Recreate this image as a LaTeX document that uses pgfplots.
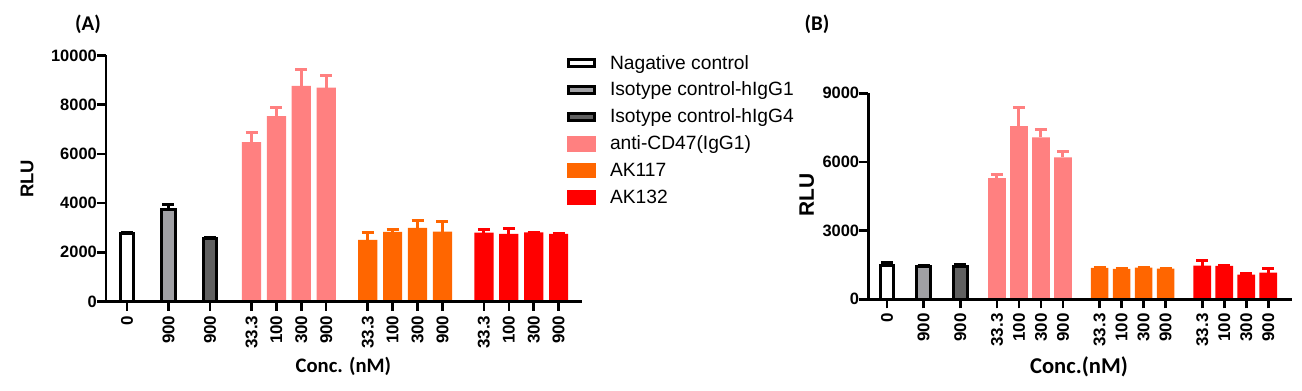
\documentclass[border=0pt]{standalone}
\usepackage{fontspec}
\setmainfont{Liberation Sans}
\newfontfamily\carlito{Carlito}
\usepackage{pgfplots}
\pgfplotsset{compat=1.18}
\definecolor{cgray}{HTML}{A0A0A4}
\definecolor{cdark}{HTML}{606060}
\definecolor{cpink}{HTML}{FF8080}
\definecolor{corange}{HTML}{FF6600}
\definecolor{cred}{HTML}{FF0000}
\pgfplotsset{
  panel/.style={
    scale only axis,
    axis lines=left,
    axis line style={-, line width=2.7bp, black},
    axis on top,
    tick align=outside,
    major tick length=9bp,
    tick style={line width=2.5bp, black},
    xtick={0,1.6667,3.3333,5,6,7,8,9.6667,10.6667,11.6667,12.6667,14.3333,15.3333,16.3333,17.3333},
    xticklabels={0,900,900,33.3,100,300,900,33.3,100,300,900,33.3,100,300,900},
    xticklabel style={rotate=90, anchor=east, font=\bfseries\fontsize{17}{17}\selectfont, inner sep=0pt},
    xticklabel shift=5bp,
    yticklabel style={font=\bfseries\fontsize{16.5}{16.5}\selectfont, inner sep=0pt},
    /pgf/number format/assume math mode=true,
    /pgf/number format/1000 sep={},
    scaled y ticks=false,
    clip=false,
    ymin=0,
    error bars/y dir=plus,
    error bars/y explicit,
  },
  ctrl/.style={ybar, bar shift=0pt, bar width=13.7bp, fill=#1, draw=black, line width=3bp,
    error bars/error bar style={line width=3bp, draw=black, solid},
    error bars/error mark options={rotate=90, line width=3bp, mark size=6bp, draw=black, solid},
    legend image code/.code={\draw[fill=#1, draw=black, line width=3bp] (1.5bp,-3.25bp) rectangle (27.5bp,3.25bp);}},
  col/.style={ybar, bar shift=0pt, fill=#1, draw=none,
    error bars/error bar style={line width=3bp, draw=#1, solid},
    error bars/error mark options={rotate=90, line width=3bp, mark size=6bp, draw=#1, solid},
    legend image code/.code={\fill[#1] (0bp,-7.85bp) rectangle (29bp,7.85bp);}},
}
\begin{document}
\begin{tikzpicture}
\useasboundingbox (0,0) rectangle (1302bp,391bp);
\node[font=\carlito\bfseries\fontsize{21}{21}\selectfont] at (88bp,367bp) {(A)};
\node[font=\carlito\bfseries\fontsize{21}{21}\selectfont] at (817bp,367bp) {(B)};

\begin{axis}[panel,
  at={(106bp,89.5bp)}, anchor=south west,
  width=475.7bp, height=246bp,
  xmin=-0.843, xmax=18.26, ymax=10000,
  ytick={0,2000,4000,6000,8000,10000},
  xlabel={Conc. (nM)},
  xlabel style={font=\carlito\bfseries\fontsize{20.7}{20.7}\selectfont, at={(axis description cs:0.499,-0.265)}, anchor=center},
  ylabel={RLU},
  ylabel style={font=\bfseries\fontsize{18.5}{18.5}\selectfont, at={(axis description cs:-0.1660,0.498)}, anchor=center},
  legend style={at={(axis description cs:0.9691,1.002)}, anchor=north west, draw=none, fill=none,
    inner sep=0pt, outer sep=0pt, row sep=10.9bp, column sep=14bp,
    font=\fontsize{19.3}{19.3}\selectfont,
    nodes={inner sep=0pt, text height=14bp, text depth=2bp}},
  legend cell align=left,
]
\addplot[ctrl=white] coordinates {(0,2760) +- (0,40)};
\addlegendentry{Nagative control}
\addplot[ctrl=cgray] coordinates {(1.6667,3720) +- (0,230)};
\addlegendentry{Isotype control-hIgG1}
\addplot[ctrl=cdark] coordinates {(3.3333,2570) +- (0,40)};
\addlegendentry{Isotype control-hIgG4}
\addplot[col=cpink, bar width=19.2bp] coordinates {(5,6480) +- (0,380) (6,7540) +- (0,360) (7,8770) +- (0,680) (8,8690) +- (0,480)};
\addlegendentry{anti-CD47(IgG1)}
\addplot[col=corange, bar width=19.2bp] coordinates {(9.6667,2500) +- (0,300) (10.6667,2830) +- (0,110) (11.6667,2990) +- (0,300) (12.6667,2840) +- (0,410)};
\addlegendentry{AK117}
\addplot[col=cred, bar width=19.2bp] coordinates {(14.3333,2800) +- (0,140) (15.3333,2750) +- (0,210) (16.3333,2810) +- (0,5) (17.3333,2750) +- (0,5)};
\addlegendentry{AK132}
\end{axis}

\begin{axis}[panel,
  at={(868.3bp,91.7bp)}, anchor=south west,
  width=423.4bp, height=206bp,
  xmin=-0.85, xmax=18.4, ymax=9000,
  ytick={0,3000,6000,9000},
  xlabel={Conc.(nM)},
  xlabel style={font=\carlito\bfseries\fontsize{22.7}{22.7}\selectfont, at={(axis description cs:0.4976,-0.3272)}, anchor=center},
  ylabel={RLU},
  ylabel style={font=\bfseries\fontsize{21}{21}\selectfont, at={(axis description cs:-0.1455,0.5063)}, anchor=center},
]
\addplot[ctrl=white] coordinates {(0,1470) +- (0,120)};
\addplot[ctrl=cgray] coordinates {(1.6667,1430) +- (0,40)};
\addplot[ctrl=cdark] coordinates {(3.3333,1430) +- (0,110)};
\addplot[col=cpink, bar width=17.7bp] coordinates {(5,5290) +- (0,160) (6,7570) +- (0,820) (7,7080) +- (0,320) (8,6200) +- (0,250)};
\addplot[col=corange, bar width=17.7bp] coordinates {(9.6667,1370) +- (0,5) (10.6667,1330) +- (0,5) (11.6667,1380) +- (0,5) (12.6667,1340) +- (0,5)};
\addplot[col=cred, bar width=17.7bp] coordinates {(14.3333,1470) +- (0,230) (15.3333,1460) +- (0,30) (16.3333,1080) +- (0,30) (17.3333,1170) +- (0,180)};
\end{axis}
\end{tikzpicture}
\end{document}
